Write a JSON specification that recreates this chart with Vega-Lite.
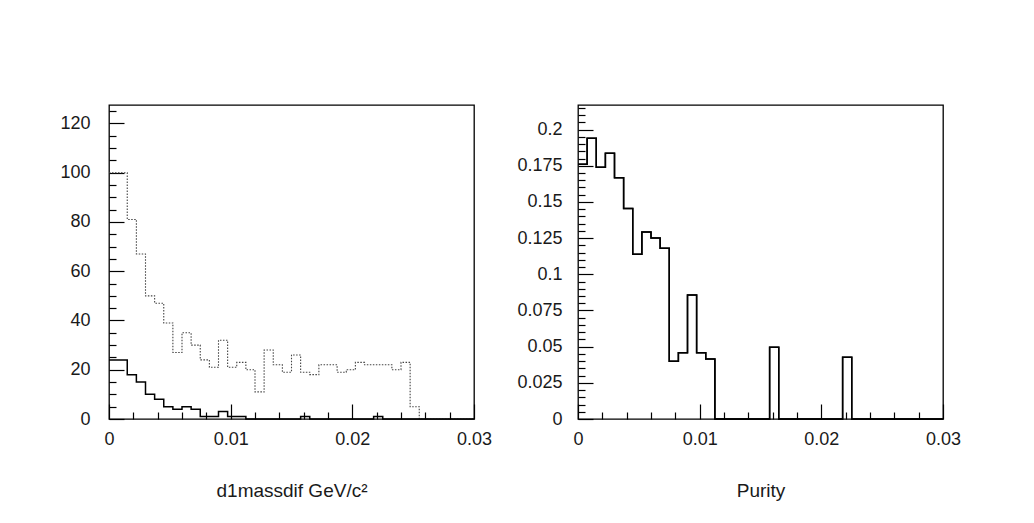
{
  "$schema": "https://vega.github.io/schema/vega-lite/v6.json",
  "padding": {"left": 59, "top": 104, "right": 5, "bottom": 5},
  "background": "white",
  "config": {
    "view": {"stroke": "black", "strokeWidth": 1.3},
    "axis": {"domain": false, "grid": false, "tickColor": "black", "tickWidth": 1.2,
      "labelFont": "Liberation Sans", "labelFontSize": 18, "labelColor": "#1a1a1a",
      "titleFont": "Liberation Sans", "titleFontSize": 19, "titleFontWeight": "normal", "titleColor": "#1a1a1a",
      "labelFlush": false, "labelOverlap": false}
  },
  "datasets": {
    "mass": [
      {"i":0,"x":0,"bkg":100,"sig":24},
      {"i":1,"x":0.00075,"bkg":100,"sig":24},
      {"i":2,"x":0.0015,"bkg":81,"sig":18},
      {"i":3,"x":0.00225,"bkg":67,"sig":15},
      {"i":4,"x":0.003,"bkg":50,"sig":10},
      {"i":5,"x":0.00375,"bkg":47,"sig":8},
      {"i":6,"x":0.0045,"bkg":39,"sig":5},
      {"i":7,"x":0.00525,"bkg":27,"sig":4},
      {"i":8,"x":0.006,"bkg":35,"sig":5},
      {"i":9,"x":0.00675,"bkg":30,"sig":4},
      {"i":10,"x":0.0075,"bkg":24,"sig":1},
      {"i":11,"x":0.00825,"bkg":21,"sig":1},
      {"i":12,"x":0.009,"bkg":32,"sig":3},
      {"i":13,"x":0.00975,"bkg":21,"sig":1},
      {"i":14,"x":0.0105,"bkg":23,"sig":1},
      {"i":15,"x":0.01125,"bkg":20,"sig":0},
      {"i":16,"x":0.012,"bkg":11,"sig":0},
      {"i":17,"x":0.01275,"bkg":28,"sig":0},
      {"i":18,"x":0.0135,"bkg":22,"sig":0},
      {"i":19,"x":0.01425,"bkg":19,"sig":0},
      {"i":20,"x":0.015,"bkg":26,"sig":0},
      {"i":21,"x":0.01575,"bkg":19,"sig":1},
      {"i":22,"x":0.0165,"bkg":18,"sig":0},
      {"i":23,"x":0.01725,"bkg":22,"sig":0},
      {"i":24,"x":0.018,"bkg":22,"sig":0},
      {"i":25,"x":0.01875,"bkg":19,"sig":0},
      {"i":26,"x":0.0195,"bkg":20,"sig":0},
      {"i":27,"x":0.02025,"bkg":23,"sig":0},
      {"i":28,"x":0.021,"bkg":22,"sig":0},
      {"i":29,"x":0.02175,"bkg":22,"sig":1},
      {"i":30,"x":0.0225,"bkg":22,"sig":0},
      {"i":31,"x":0.02325,"bkg":20,"sig":0},
      {"i":32,"x":0.024,"bkg":23,"sig":0},
      {"i":33,"x":0.02475,"bkg":5,"sig":0},
      {"i":34,"x":0.0255,"bkg":0,"sig":0},
      {"i":35,"x":0.02625,"bkg":0,"sig":0},
      {"i":36,"x":0.027,"bkg":0,"sig":0},
      {"i":37,"x":0.02775,"bkg":0,"sig":0},
      {"i":38,"x":0.0285,"bkg":0,"sig":0},
      {"i":39,"x":0.02925,"bkg":0,"sig":0},
      {"i":40,"x":0.03,"bkg":0,"sig":0}
    ],
    "purity": [
      {"i":0,"x":0,"p":0.176},
      {"i":1,"x":0.00075,"p":0.194},
      {"i":2,"x":0.0015,"p":0.174},
      {"i":3,"x":0.00225,"p":0.1836},
      {"i":4,"x":0.003,"p":0.1668},
      {"i":5,"x":0.00375,"p":0.1454},
      {"i":6,"x":0.0045,"p":0.1139},
      {"i":7,"x":0.00525,"p":0.1293},
      {"i":8,"x":0.006,"p":0.125},
      {"i":9,"x":0.00675,"p":0.118},
      {"i":10,"x":0.0075,"p":0.0399},
      {"i":11,"x":0.00825,"p":0.0457},
      {"i":12,"x":0.009,"p":0.0857},
      {"i":13,"x":0.00975,"p":0.0457},
      {"i":14,"x":0.0105,"p":0.0415},
      {"i":15,"x":0.01125,"p":0},
      {"i":16,"x":0.012,"p":0},
      {"i":17,"x":0.01275,"p":0},
      {"i":18,"x":0.0135,"p":0},
      {"i":19,"x":0.01425,"p":0},
      {"i":20,"x":0.015,"p":0},
      {"i":21,"x":0.01575,"p":0.0495},
      {"i":22,"x":0.0165,"p":0},
      {"i":23,"x":0.01725,"p":0},
      {"i":24,"x":0.018,"p":0},
      {"i":25,"x":0.01875,"p":0},
      {"i":26,"x":0.0195,"p":0},
      {"i":27,"x":0.02025,"p":0},
      {"i":28,"x":0.021,"p":0},
      {"i":29,"x":0.02175,"p":0.0426},
      {"i":30,"x":0.0225,"p":0},
      {"i":31,"x":0.02325,"p":0},
      {"i":32,"x":0.024,"p":0},
      {"i":33,"x":0.02475,"p":0},
      {"i":34,"x":0.0255,"p":0},
      {"i":35,"x":0.02625,"p":0},
      {"i":36,"x":0.027,"p":0},
      {"i":37,"x":0.02775,"p":0},
      {"i":38,"x":0.0285,"p":0},
      {"i":39,"x":0.02925,"p":0},
      {"i":40,"x":0.03,"p":0}
    ]
  },
  "bounds": "flush",
  "spacing": 104,
  "hconcat": [
    {
      "width": 365, "height": 314,
      "data": {"name": "mass"},
      "resolve": {"axis": {"x": "independent", "y": "independent"}},
      "layer": [
        {
          "mark": {"type": "line", "interpolate": "step-after", "strokeDash": [1.5, 1.5], "color": "#444", "strokeWidth": 1.1},
          "encoding": {
            "x": {"field": "x", "type": "quantitative", "scale": {"domain": [0, 0.03], "nice": false, "zero": false},
              "axis": {"orient": "bottom", "values": [0, 0.01, 0.02, 0.03], "tickSize": -15, "labelExpr": "toString(datum.value)", "labelPadding": 26, "title": "d1massdif GeV/c²", "titlePadding": 33}},
            "y": {"field": "bkg", "type": "quantitative", "scale": {"domain": [0, 127.5], "nice": false},
              "axis": {"orient": "left", "values": [0, 20, 40, 60, 80, 100, 120], "tickSize": -15, "labelExpr": "toString(datum.value)", "labelPadding": 34, "title": null}},
            "order": {"field": "i", "type": "quantitative"}
          }
        },
        {
          "mark": {"type": "line", "interpolate": "step-after", "color": "black", "strokeWidth": 1.5},
          "encoding": {
            "x": {"field": "x", "type": "quantitative", "scale": {"domain": [0, 0.03], "nice": false, "zero": false},
              "axis": {"orient": "bottom", "values": [0.002, 0.004, 0.006, 0.008, 0.012, 0.014, 0.016, 0.018, 0.022, 0.024, 0.026, 0.028], "tickSize": -7, "labels": false, "title": null}},
            "y": {"field": "sig", "type": "quantitative", "scale": {"domain": [0, 127.5], "nice": false},
              "axis": {"orient": "left", "values": [5, 10, 15, 25, 30, 35, 45, 50, 55, 65, 70, 75, 85, 90, 95, 105, 110, 115, 125], "tickSize": -7, "labels": false, "title": null}},
            "order": {"field": "i", "type": "quantitative"}
          }
        }
      ]
    },
    {
      "width": 365, "height": 314,
      "data": {"name": "purity"},
      "resolve": {"axis": {"x": "independent", "y": "independent"}},
      "layer": [
        {
          "mark": {"type": "line", "interpolate": "step-after", "color": "black", "strokeWidth": 1.5},
          "encoding": {
            "x": {"field": "x", "type": "quantitative", "scale": {"domain": [0, 0.03], "nice": false, "zero": false},
              "axis": {"orient": "bottom", "values": [0, 0.01, 0.02, 0.03], "tickSize": -15, "labelExpr": "toString(datum.value)", "labelPadding": 26, "title": "Purity", "titlePadding": 33}},
            "y": {"field": "p", "type": "quantitative", "scale": {"domain": [0, 0.217], "nice": false},
              "axis": {"orient": "left", "values": [0, 0.025, 0.05, 0.075, 0.1, 0.125, 0.15, 0.175, 0.2], "tickSize": -15, "labelExpr": "toString(datum.value)", "labelPadding": 31, "title": null}},
            "order": {"field": "i", "type": "quantitative"}
          }
        },
        {
          "mark": {"type": "line", "interpolate": "step-after", "color": "black", "strokeWidth": 1.5},
          "encoding": {
            "x": {"field": "x", "type": "quantitative", "scale": {"domain": [0, 0.03], "nice": false, "zero": false},
              "axis": {"orient": "bottom", "values": [0.002, 0.004, 0.006, 0.008, 0.012, 0.014, 0.016, 0.018, 0.022, 0.024, 0.026, 0.028], "tickSize": -7, "labels": false, "title": null}},
            "y": {"field": "p", "type": "quantitative", "scale": {"domain": [0, 0.217], "nice": false},
              "axis": {"orient": "left", "values": [0.005, 0.01, 0.015, 0.02, 0.03, 0.035, 0.04, 0.045, 0.055, 0.06, 0.065, 0.07, 0.08, 0.085, 0.09, 0.095, 0.105, 0.11, 0.115, 0.12, 0.13, 0.135, 0.14, 0.145, 0.155, 0.16, 0.165, 0.17, 0.18, 0.185, 0.19, 0.195, 0.205, 0.21, 0.215], "tickSize": -7, "labels": false, "title": null}},
            "order": {"field": "i", "type": "quantitative"}
          }
        }
      ]
    }
  ]
}
